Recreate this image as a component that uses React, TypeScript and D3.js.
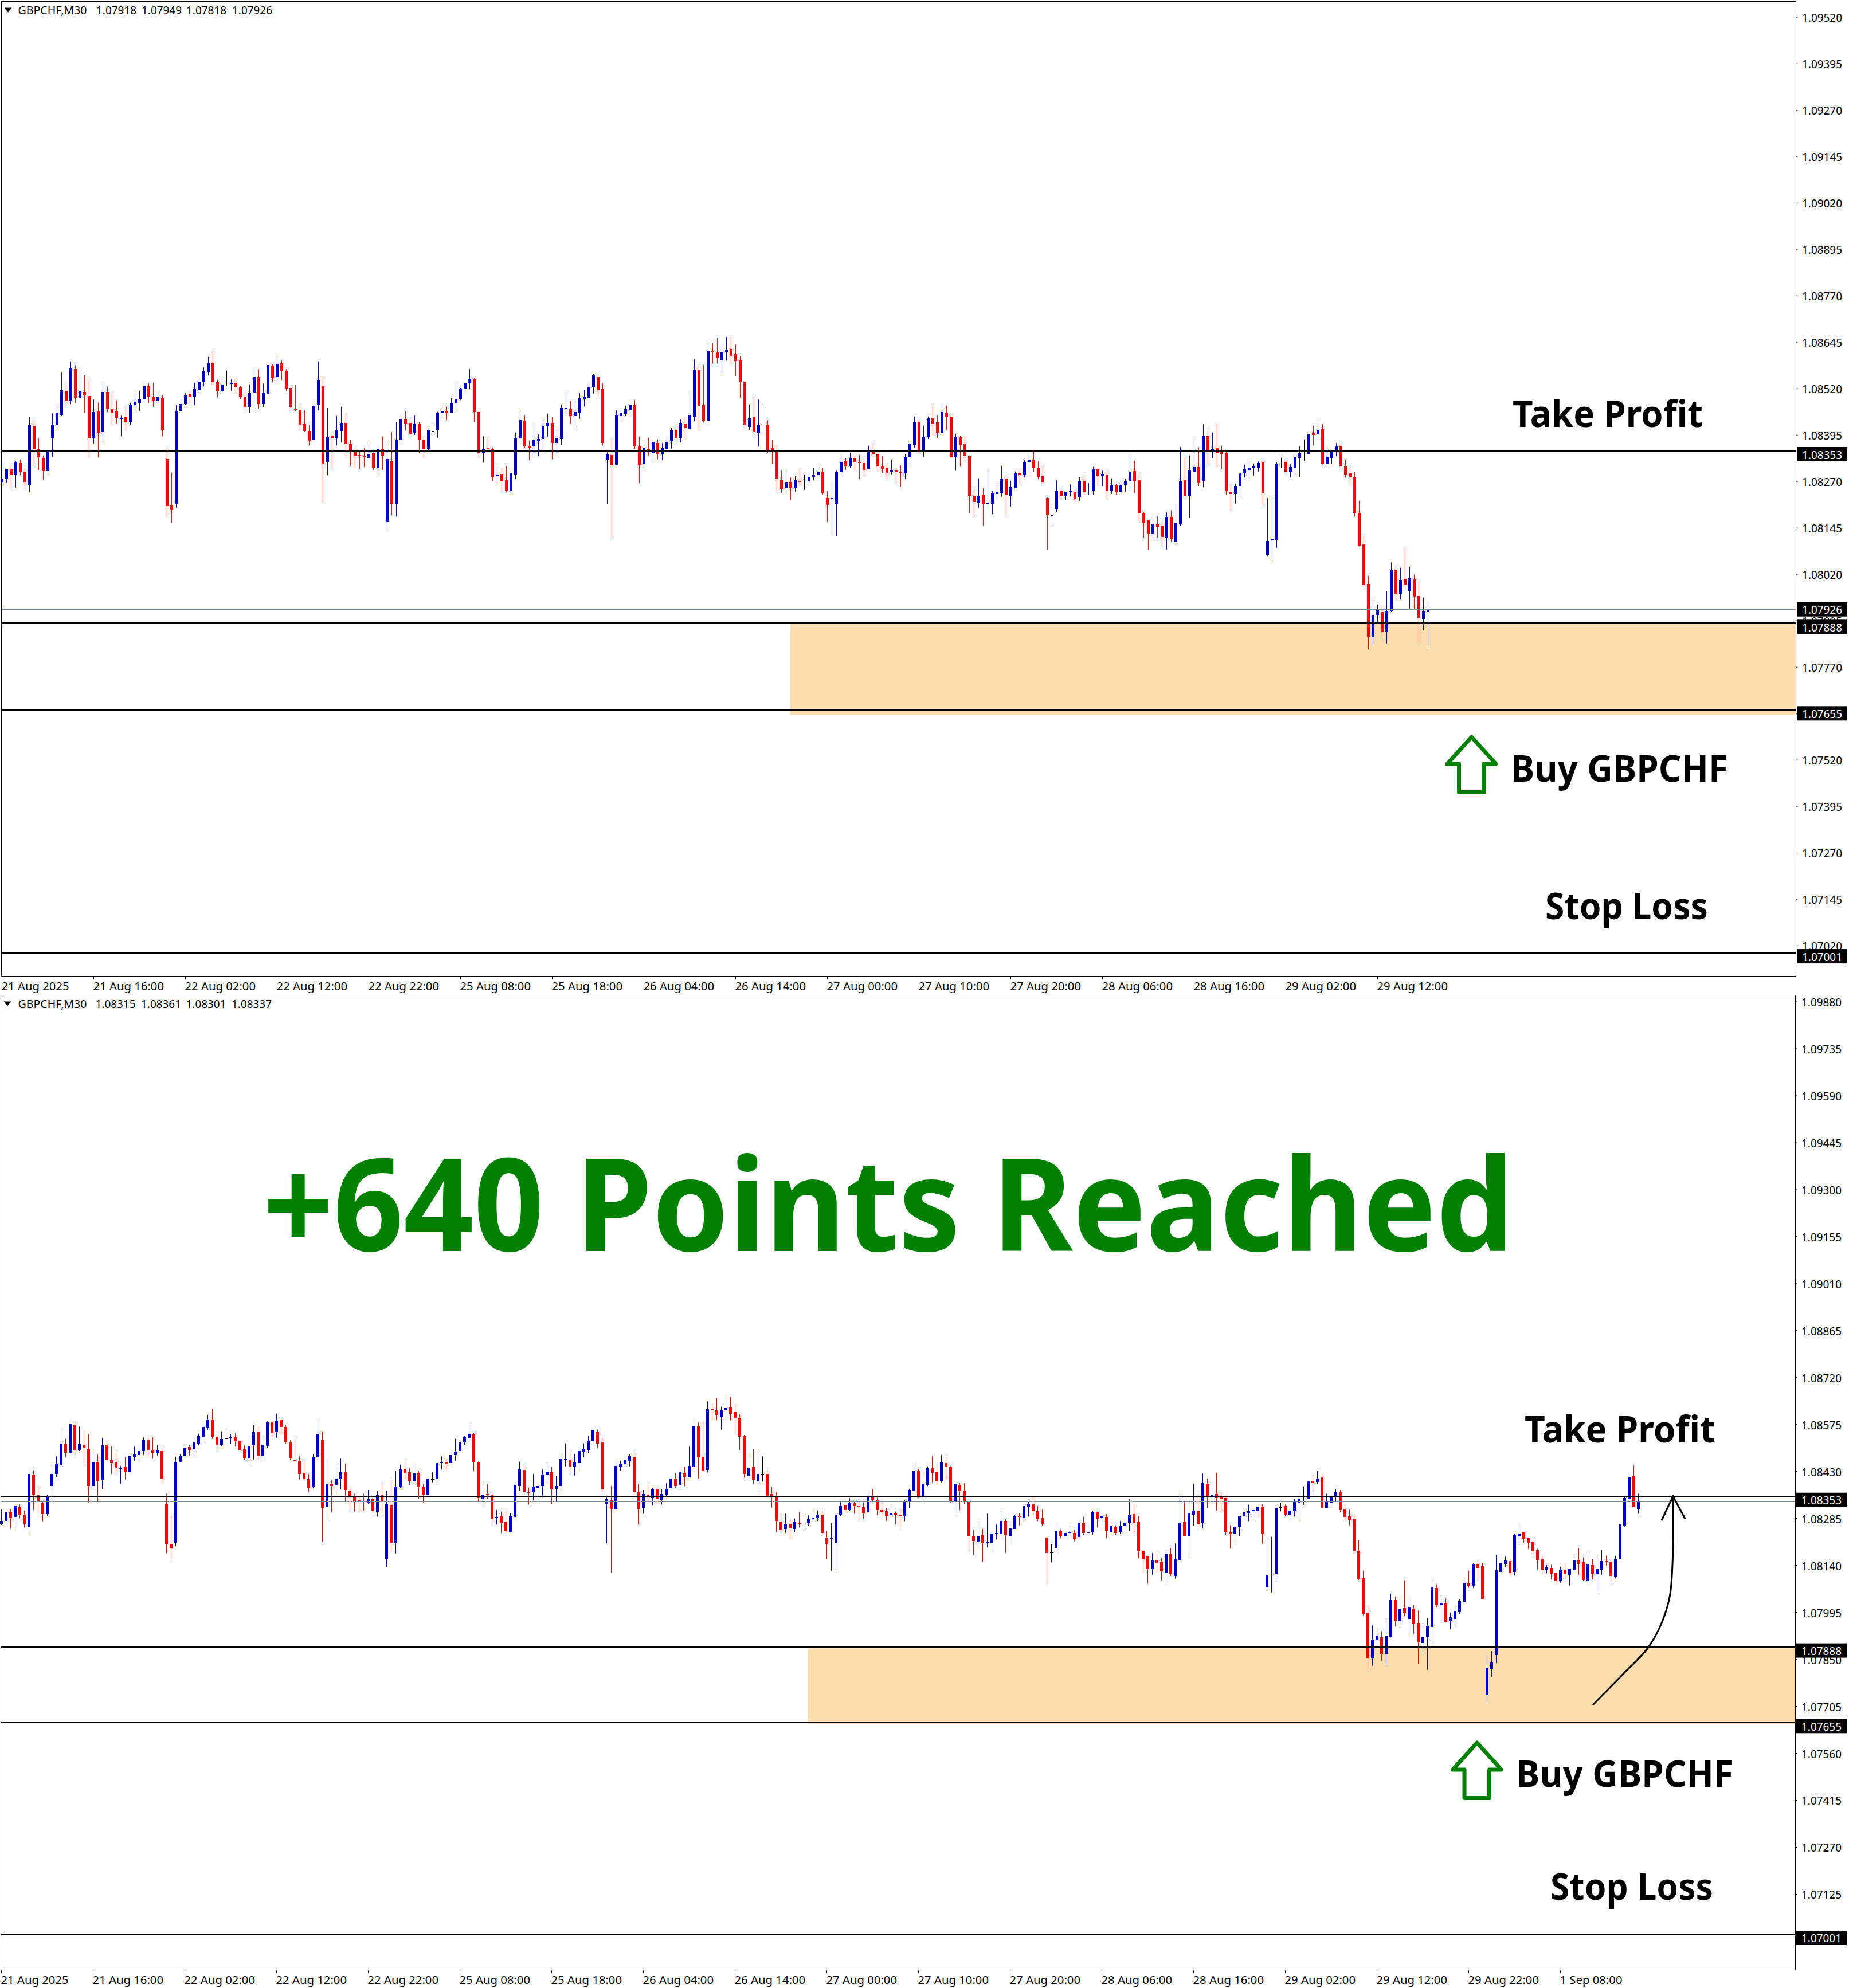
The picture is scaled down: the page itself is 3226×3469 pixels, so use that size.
// App.tsx - two GBPCHF M30 panels (entry + result), candles drawn with d3 scales
import React from 'react';
import * as d3 from 'd3';

// all candle values are in points above 1.07000 (1 point = 0.00001)
const BASE_PRICE = 1.07;

const opens = [
  1269,1277,1303,1289,1320,1297,1260,1420,1357,1334, 1298,1386,1422,1450,1514,1487,1573,1496,1511,1500,
  1386,1459,1403,1511,1465,1460,1439,1443,1429,1476, 1480,1493,1527,1497,1488,1494,1331,1207,1210,1460,
  1479,1505,1499,1516,1537,1564,1590,1537,1513,1532, 1533,1536,1524,1499,1470,1510,1551,1479,1507,1582,
  1551,1588,1568,1522,1466,1463,1425,1406,1382,1476, 1527,1321,1392,1388,1406,1428,1371,1352,1341,1340,
  1334,1346,1306,1357,1161,1326,1209,1383,1439,1428, 1400,1426,1382,1358,1407,1408,1456,1460,1456,1480,
  1493,1520,1534,1545,1457,1346,1360,1357,1286,1291, 1274,1244,1289,1386,1434,1366,1365,1379,1385,1420,
  1428,1374,1385,1465,1465,1446,1456,1491,1496,1524, 1551,1519,1329,1341,1315,1446,1453,1462,1476,1365,
  1317,1357,1348,1374,1343,1357,1379,1409,1388,1426, 1412,1445,1570,1476,1434,1622,1618,1598,1618,1627,
  1613,1596,1539,1417,1443,1400,1423,1423,1360,1354, 1275,1252,1269,1252,1272,1272,1270,1283,1287,1297,
  1226,1223,1210,1295,1325,1311,1332,1323,1320,1304, 1351,1343,1311,1308,1295,1301,1297,1292,1335,1369,
  1431,1351,1389,1440,1429,1402,1456,1445,1335,1389, 1371,1338,1232,1213,1233,1210,1210,1236,1238,1278,
  1232,1253,1294,1287,1321,1329,1307,1286,1226,1180, 1195,1246,1230,1241,1241,1227,1272,1241,1244,1303,
  1286,1289,1244,1260,1243,1261,1272,1298,1274,1186, 1167,1128,1155,1152,1119,1175,1108,1156,1274,1232,
  1297,1309,1272,1392,1354,1360,1349,1348,1243,1236, 1258,1292,1300,1307,1307,1321,1073,1112,1112,1319,
  1323,1297,1307,1334,1347,1345,1400,1397,1411,1318, 1332,1349,1366,1312,1292,1283,1186,1101,994,852,
  909,919,865,920,1033,968,1008,974,1007,962, 900,918,950,1070,1017,1023,968,975,996,1028,
  1084,1077,1145,1138,741,819,863,1120,1145,1153, 1120,1230,1242,1224,1212,1187,1159,1127,1132,1118,
  1093,1127,1111,1127,1157,1150,1093,1141,1113,1127, 1153,1152,1104,1161,1261,1345,1415,1315,
];

const highs = [
  1313,1305,1313,1326,1329,1309,1443,1433,1386,1340, 1357,1454,1477,1564,1531,1593,1582,1570,1556,1544,
  1491,1482,1533,1525,1507,1488,1448,1473,1482,1508, 1514,1536,1534,1536,1510,1502,1360,1294,1476,1482,
  1508,1513,1536,1547,1578,1605,1622,1544,1553,1568, 1545,1548,1527,1511,1531,1573,1571,1534,1585,1585,
  1608,1596,1573,1527,1530,1477,1462,1422,1482,1593, 1553,1468,1403,1446,1471,1454,1382,1360,1352,1360,
  1372,1348,1369,1391,1371,1403,1431,1451,1459,1440, 1448,1431,1391,1409,1428,1457,1477,1471,1494,1531,
  1522,1539,1573,1548,1460,1392,1391,1362,1311,1306, 1311,1301,1402,1460,1448,1380,1422,1397,1436,1453,
  1443,1416,1477,1516,1487,1485,1508,1517,1539,1559, 1559,1534,1349,1386,1462,1463,1474,1483,1490,1391,
  1372,1388,1380,1383,1374,1394,1416,1425,1437,1443, 1508,1599,1581,1584,1647,1642,1656,1630,1659,1659,
  1639,1607,1542,1477,1500,1491,1477,1434,1382,1366, 1300,1300,1281,1284,1304,1289,1295,1308,1309,1308,
  1246,1270,1300,1337,1332,1348,1340,1341,1334,1366, 1374,1349,1338,1317,1329,1306,1314,1343,1377,1445,
  1437,1420,1445,1477,1448,1480,1474,1448,1399,1394, 1394,1340,1249,1278,1252,1300,1246,1267,1312,1284,
  1272,1297,1301,1329,1340,1352,1324,1312,1227,1204, 1274,1250,1243,1263,1249,1281,1289,1266,1309,1306,
  1300,1298,1278,1264,1277,1277,1345,1326,1292,1187, 1167,1179,1176,1162,1187,1192,1209,1363,1335,1340,
  1392,1361,1425,1408,1402,1426,1366,1351,1263,1264, 1294,1315,1326,1317,1324,1328,1226,1227,1321,1334,
  1328,1317,1345,1365,1383,1402,1420,1432,1425,1361, 1355,1374,1372,1329,1312,1295,1218,1124,1016,956,
  939,936,974,1053,1044,1037,1093,1041,1019,1002, 957,977,1097,1081,1042,1038,994,1010,1035,1095,
  1123,1146,1150,1146,867,876,1173,1175,1168,1159, 1238,1267,1242,1224,1219,1191,1168,1141,1141,1118,
  1136,1146,1130,1173,1192,1164,1177,1161,1166,1189, 1169,1161,1169,1267,1352,1424,1449,1361,
];

const lows = [
  1265,1267,1254,1254,1287,1257,1241,1311,1301,1275, 1291,1337,1414,1446,1473,1479,1480,1493,1456,1332,
  1372,1335,1377,1457,1423,1426,1392,1406,1422,1463, 1460,1480,1480,1471,1479,1392,1176,1159,1200,1457,
  1477,1479,1476,1510,1527,1558,1530,1497,1507,1528, 1514,1508,1493,1466,1456,1466,1466,1470,1502,1537,
  1533,1544,1514,1465,1460,1406,1405,1368,1380,1462, 1213,1287,1303,1368,1375,1338,1312,1308,1304,1309,
  1331,1301,1291,1301,1136,1180,1176,1379,1408,1389, 1396,1346,1332,1354,1396,1388,1437,1436,1456,1463,
  1490,1513,1519,1431,1335,1321,1346,1270,1266,1241, 1241,1243,1277,1371,1362,1328,1341,1338,1354,1391,
  1331,1338,1369,1446,1426,1417,1439,1473,1487,1507, 1502,1368,1209,1119,1315,1433,1446,1445,1357,1266,
  1301,1340,1325,1331,1328,1355,1358,1379,1375,1385, 1412,1433,1409,1429,1428,1588,1588,1558,1596,1587,
  1554,1496,1412,1408,1392,1365,1399,1346,1318,1244, 1240,1241,1221,1243,1258,1247,1261,1274,1277,1235,
  1161,1124,1122,1294,1301,1308,1300,1277,1284,1304, 1335,1295,1294,1277,1289,1266,1257,1277,1317,1362,
  1348,1337,1385,1395,1388,1395,1409,1332,1300,1311, 1331,1184,1173,1199,1152,1196,1182,1221,1229,1178,
  1203,1252,1263,1281,1292,1295,1277,1263,1085,1150, 1187,1224,1221,1230,1215,1218,1233,1233,1233,1258,
  1258,1224,1236,1233,1236,1243,1246,1240,1162,1119, 1085,1111,1119,1093,1087,1108,1099,1152,1232,1172,
  1264,1258,1255,1317,1332,1309,1304,1233,1192,1210, 1232,1281,1278,1286,1297,1206,1068,1056,1091,1307,
  1291,1281,1291,1283,1326,1345,1368,1392,1317,1317, 1318,1338,1304,1281,1264,1176,1096,985,818,829,
  892,846,834,919,951,953,983,928,928,835, 869,817,899,1010,964,964,943,957,991,1021,
  1072,1070,1100,1037,711,796,839,1111,1136,1111, 1109,1205,1210,1191,1173,1127,1109,1116,1097,1081,
  1086,1099,1077,1118,1111,1092,1086,1097,1060,1111, 1139,1088,1100,1157,1260,1329,1321,1301,
];

const closes = [
  1278,1303,1287,1323,1295,1269,1422,1357,1335,1298, 1352,1423,1454,1516,1488,1576,1496,1514,1502,1386,
  1457,1402,1511,1465,1456,1442,1442,1429,1477,1485, 1493,1528,1497,1488,1497,1409,1204,1193,1460,1479,
  1504,1497,1519,1539,1567,1590,1537,1513,1531,1532, 1536,1524,1497,1471,1508,1551,1479,1510,1584,1550,
  1587,1567,1520,1470,1462,1423,1406,1380,1474,1544, 1318,1391,1386,1408,1428,1372,1355,1340,1338,1335,
  1345,1308,1357,1338,1331,1210,1383,1437,1426,1399, 1425,1382,1357,1408,1407,1456,1459,1454,1480,1491,
  1520,1536,1547,1457,1348,1357,1357,1283,1289,1270, 1246,1292,1388,1436,1365,1362,1383,1385,1420,1428,
  1374,1386,1468,1468,1446,1457,1494,1499,1525,1556, 1516,1374,1345,1314,1448,1454,1465,1477,1365,1315,
  1360,1349,1375,1345,1360,1377,1408,1386,1428,1414, 1448,1571,1473,1433,1622,1618,1604,1618,1625,1608,
  1595,1537,1423,1440,1405,1422,1423,1354,1354,1277, 1250,1269,1254,1274,1269,1272,1283,1287,1297,1240,
  1207,1226,1295,1323,1311,1334,1323,1320,1301,1349, 1343,1311,1304,1294,1301,1297,1294,1335,1372,1431,
  1351,1391,1440,1426,1402,1457,1443,1335,1391,1369, 1338,1232,1215,1232,1209,1212,1238,1241,1278,1233,
  1255,1292,1289,1323,1328,1307,1283,1269,1179,1180, 1246,1232,1241,1244,1223,1272,1241,1243,1303,1284,
  1291,1246,1261,1241,1261,1272,1297,1270,1184,1158, 1128,1155,1149,1121,1175,1115,1159,1272,1232,1300,
  1309,1267,1394,1354,1358,1348,1345,1244,1236,1258, 1292,1303,1307,1311,1320,1238,1110,1115,1318,1319,
  1297,1309,1335,1346,1347,1399,1395,1409,1318,1337, 1351,1365,1311,1289,1281,1186,1098,991,852,911,
  923,865,922,1033,968,1005,993,1010,960,903, 920,954,1072,1017,1023,966,980,998,1030,1086,
  1077,1145,1132,1037,824,840,1125,1146,1155,1118, 1233,1238,1222,1210,1184,1157,1125,1134,1115,1093,
  1127,1113,1130,1155,1145,1095,1143,1115,1129,1153, 1150,1107,1161,1267,1348,1414,1321,1337,
];

// the still forming bar in the upper panel: open, high, low, close
const formingBar = [918, 949, 818, 926];
const topBarCount = 311;

const topPriceTicks = [
  '1.09520','1.09395','1.09270','1.09145','1.09020','1.08895','1.08770','1.08645','1.08520','1.08395','1.08270',
  '1.08145','1.08020','1.07895','1.07770','1.07645','1.07520','1.07395','1.07270','1.07145','1.07020',
];
const bottomPriceTicks = [
  '1.09880','1.09735','1.09590','1.09445','1.09300','1.09155','1.09010','1.08865','1.08720','1.08575','1.08430',
  '1.08285','1.08140','1.07995','1.07850','1.07705','1.07560','1.07415','1.07270','1.07125',
];
const topTimeLabels = [
  '21 Aug 2025','21 Aug 16:00','22 Aug 02:00','22 Aug 12:00','22 Aug 22:00','25 Aug 08:00','25 Aug 18:00','26 Aug 04:00',
  '26 Aug 14:00','27 Aug 00:00','27 Aug 10:00','27 Aug 20:00','28 Aug 06:00','28 Aug 16:00','29 Aug 02:00','29 Aug 12:00',
];
const bottomTimeLabels = [...topTimeLabels, '29 Aug 22:00', '1 Sep 08:00'];
const barsPerTimeLabel = 20;

const takeProfit = 1.08353;
const entryLevel = 1.07888;
const zoneLow = 1.07655;
const stopLoss = 1.07001;
const topOhlc = ['1.07918', '1.07949', '1.07818', '1.07926'];
const bottomOhlc = ['1.08315', '1.08361', '1.08301', '1.08337'];

type Bar = { i: number; o: number; h: number; l: number; c: number };
const toPrice = (pts: number) => BASE_PRICE + pts / 1e5;

const allBars: Bar[] = opens.map((o, i) => ({
  i, o: toPrice(o), h: toPrice(highs[i]), l: toPrice(lows[i]), c: toPrice(closes[i]),
}));
const topBars: Bar[] = [
  ...allBars.slice(0, topBarCount),
  { i: topBarCount, o: toPrice(formingBar[0]), h: toPrice(formingBar[1]), l: toPrice(formingBar[2]), c: toPrice(formingBar[3]) },
];

const UI_FONT = '"Noto Sans", sans-serif';
const BLUE = '#0000CD';
const RED = '#FF0000';
const GREEN = '#008000';
const ZONE = '#FDDDAE';

type PaneProps = {
  bars: Bar[];
  top: number; bottom: number; left: number; right: number;
  firstBarX: number;
  priceDomain: [number, number]; priceRange: [number, number];
  ticks: string[]; timeLabels: string[];
  ohlc: string[]; ohlcX: number[];
  zoneX: number; zoneTop: number; zoneBottom: number;
  bid: number; showBid: boolean;
  tickTextX: number;
};

const Pane: React.FC<PaneProps> = (p) => {
  const x = d3.scaleLinear().domain([0, 1]).range([p.firstBarX, p.firstBarX + 8]);
  const y = d3.scaleLinear().domain(p.priceDomain).range(p.priceRange);
  const levels = [takeProfit, entryLevel, zoneLow, stopLoss];
  const fmt = d3.format('.5f');
  const baseY = p.top + 22;

  return (
    <g>
      {/* supply/demand zone */}
      <rect x={p.zoneX} y={p.zoneTop} width={p.right - p.zoneX} height={p.zoneBottom - p.zoneTop} fill={ZONE} />

      {/* candles */}
      <g shapeRendering="crispEdges">
        {p.bars.map((d) => {
          const color = d.c > d.o ? BLUE : d.c < d.o ? RED : '#000';
          const bodyTop = Math.round(y(Math.max(d.o, d.c)));
          const bodyH = Math.max(1, Math.round(y(Math.min(d.o, d.c))) - bodyTop);
          const cx = x(d.i);
          return (
            <g key={d.i} fill={color}>
              <rect x={cx - 0.5} y={Math.round(y(d.h))} width={1} height={Math.max(1, Math.round(y(d.l)) - Math.round(y(d.h)))} />
              <rect x={cx - 2.5} y={bodyTop} width={5} height={bodyH} />
            </g>
          );
        })}
      </g>

      {/* bid line + horizontal levels */}
      <line x1={p.left} x2={p.right} y1={Math.floor(y(p.bid)) + 0.5} y2={Math.floor(y(p.bid)) + 0.5} stroke="#778899" strokeWidth={1} />
      {levels.map((v) => (
        <line key={v} x1={p.left} x2={p.right} y1={Math.floor(y(v)) + 0.5} y2={Math.floor(y(v)) + 0.5} stroke="#000" strokeWidth={3} />
      ))}

      {/* frame */}
      <path d={`M${p.left},${p.bottom}V${p.top}H${p.right}V${p.bottom}H${p.left}`} fill="none" stroke="#000" strokeWidth={1} />

      {/* price axis */}
      {p.ticks.map((t) => (
        <g key={t}>
          <line x1={p.right} x2={p.right + 3} y1={y(+t)} y2={y(+t)} stroke="#000" />
          <text x={p.tickTextX} y={y(+t) + 8} fontFamily={UI_FONT} fontSize={19.5} textLength={70} lengthAdjust="spacingAndGlyphs" fill="#000">{t}</text>
        </g>
      ))}

      {/* time axis */}
      {p.timeLabels.map((t, k) => {
        const tx = x(k * barsPerTimeLabel);
        return (
          <g key={t}>
            <line x1={tx} x2={tx} y1={p.bottom} y2={p.bottom + 5} stroke="#000" />
            <text x={tx - 1} y={p.bottom + 24} fontFamily={UI_FONT} fontSize={20.3} fill="#000">{t}</text>
          </g>
        );
      })}

      {/* price boxes */}
      {p.showBid && <PriceBox x={p.right + 1.5} cy={y(p.bid)} label={fmt(p.bid)} textX={p.tickTextX} />}
      {levels.map((v) => (
        <PriceBox key={v} x={p.right + 1.5} cy={y(v) + 6} label={fmt(v)} textX={p.tickTextX} />
      ))}

      {/* header */}
      <path d={`M${p.left + 5},${p.top + 11}h13l-6.5,8z`} fill="#000" />
      <text x={31.5} y={baseY} fontFamily={UI_FONT} fontSize={19.5} textLength={120} lengthAdjust="spacingAndGlyphs" fill="#000">GBPCHF,M30</text>
      {p.ohlc.map((v, k) => (
        <text key={k} x={p.ohlcX[k]} y={baseY} fontFamily={UI_FONT} fontSize={19.5} textLength={70} lengthAdjust="spacingAndGlyphs" fill="#000">{v}</text>
      ))}
    </g>
  );
};

const PriceBox: React.FC<{ x: number; cy: number; label: string; textX: number }> = ({ x, cy, label, textX }) => (
  <g>
    <rect x={x} y={cy - 12.5} width={88} height={25} fill="#000" />
    <text x={textX} y={cy + 8} fontFamily={UI_FONT} fontSize={19.5} textLength={70} lengthAdjust="spacingAndGlyphs" fill="#fff">{label}</text>
  </g>
);

const BuyArrow: React.FC<{ dx: number; dy: number }> = ({ dx, dy }) => (
  <path
    transform={`translate(${dx},${dy})`}
    d="M2567.5,1286 L2610,1333 H2589 V1382.5 H2545.5 V1333 H2525 Z"
    fill="none" stroke={GREEN} strokeWidth={7} strokeLinejoin="round"
  />
);

const Note: React.FC<{ x: number; y: number; w: number; children: string }> = ({ x, y, w, children }) => (
  <text x={x} y={y} fontFamily={UI_FONT} fontWeight={700} fontSize={64} textLength={w} lengthAdjust="spacingAndGlyphs" fill="#000">{children}</text>
);

const App: React.FC = () => {
  const curve = d3.line().curve(d3.curveCatmullRom)([
    [2779, 2975], [2832, 2921], [2874, 2877], [2897, 2837], [2913, 2787], [2918, 2730], [2919, 2613],
  ]) as string;

  return (
    <svg width={3226} height={3469} style={{ position: 'absolute', left: 0, top: 0, background: '#fff' }}>
      <Pane
        bars={topBars} top={2.5} bottom={1703.5} left={2.5} right={3133.5} firstBarX={3.5}
        priceDomain={[1.0802, 1.0777]} priceRange={[1002.3, 1164.3]}
        ticks={topPriceTicks} timeLabels={topTimeLabels}
        ohlc={topOhlc} ohlcX={[168, 247, 325, 405]}
        zoneX={1379} zoneTop={1086} zoneBottom={1248}
        bid={1.07926} showBid tickTextX={3144}
      />
      <Pane
        bars={allBars} top={1736.5} bottom={3437.5} left={1.5} right={3132.5} firstBarX={2.5}
        priceDomain={[1.0756, 1.0843]} priceRange={[3059.5, 2567.7]}
        ticks={bottomPriceTicks} timeLabels={bottomTimeLabels}
        ohlc={bottomOhlc} ohlcX={[166.5, 246, 324.5, 404]}
        zoneX={1410} zoneTop={2872} zoneBottom={3008}
        bid={1.08337} showBid={false} tickTextX={3143}
      />

      <Note x={2639} y={745} w={332}>Take Profit</Note>
      <Note x={2636} y={1364} w={379}>Buy GBPCHF</Note>
      <Note x={2696} y={1604} w={284}>Stop Loss</Note>
      <BuyArrow dx={0} dy={0} />

      <text x={459} y={2183} fontFamily={UI_FONT} fontWeight={700} fontSize={224} textLength={2182} lengthAdjust="spacingAndGlyphs" fill={GREEN}>+640 Points Reached</text>

      <Note x={2660} y={2517} w={333}>Take Profit</Note>
      <Note x={2645} y={3118} w={379}>Buy GBPCHF</Note>
      <Note x={2705} y={3315} w={284}>Stop Loss</Note>
      <BuyArrow dx={9.5} dy={1755} />

      {/* hand-drawn arrow up to the target */}
      <path d={curve} fill="none" stroke="#000" strokeWidth={3} />
      <path d="M2899,2653 L2919,2611 L2940,2650" fill="none" stroke="#000" strokeWidth={3} />
    </svg>
  );
};

export default App;
